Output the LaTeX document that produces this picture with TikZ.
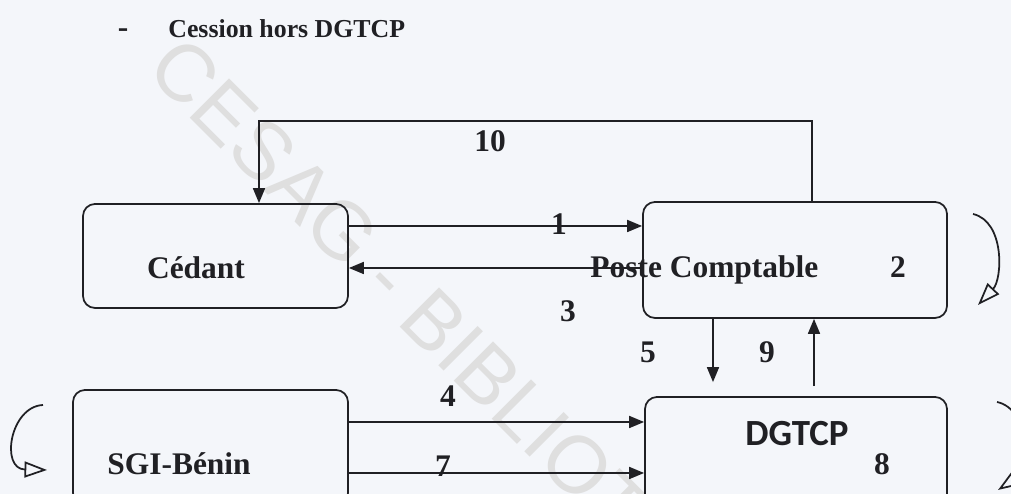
\documentclass[tikz,border=0pt]{standalone}
\usepackage{fontspec}
\setmainfont{Liberation Serif}
\newfontfamily\dgfont{Carlito}
\newfontfamily\wmfont{Liberation Sans}
\usetikzlibrary{arrows.meta,calc}

\definecolor{paper}{RGB}{244,246,250}
\definecolor{ink}{RGB}{32,32,36}

\tikzset{
  boite/.style={draw=ink, line width=1pt, rounded corners=0.24cm, inner sep=0pt},
  txt/.style={font=\fontsize{17.9}{20}\selectfont\bfseries, text=ink, inner sep=0pt},
  fleche/.style={draw=ink, line width=1pt, -{Triangle[length=3mm,width=2.4mm]}},
  boucle/.style={draw=ink, line width=1pt, -{Triangle[open,length=4.5mm,width=3.2mm]}},
  filigrane/.style={font=\wmfont\fontsize{46}{50}\selectfont, text=gray!25, inner sep=0pt}
}

\begin{document}
\begin{tikzpicture}

\useasboundingbox (0,0) rectangle (20.22,9.88);
\fill[paper] (0,0) rectangle (20.22,9.88);
\clip (0,0) rectangle (20.22,9.88);

% =========================
% FILIGRANE
% =========================

\node[filigrane, rotate=-45, anchor=west] (wm) at (3.18,8.74) {CESAG - BIBLIOTHEQUE};

% =========================
% TITRE
% =========================

\node[txt, anchor=base] (tiret) at (2.46,9.12) {-};
\node[txt, font=\fontsize{14.7}{17}\selectfont\bfseries, anchor=base west] (titre) at (3.36,9.12) {Cession hors DGTCP};

% =========================
% BOITES
% =========================

\node[boite, minimum width=5.3cm, minimum height=2.08cm] (cedant) at (4.31,4.76) {};
\node[boite, minimum width=6.08cm, minimum height=2.32cm] (poste) at (15.9,4.68) {};
\node[boite, minimum width=5.5cm, minimum height=2.3cm] (sgi) at (4.21,0.93) {};
\node[boite, minimum width=6.04cm, minimum height=2.3cm] (dgtcp) at (15.92,0.79) {};

% =========================
% TEXTES
% =========================

\node[txt, anchor=base] (tcedant) at (3.92,4.30) {Cédant};
\node[txt, anchor=base west] (tposte) at (11.8,4.32) {Poste Comptable};
\node[txt, anchor=base west] (tsgi) at (2.14,0.38) {SGI-Bénin};
\node[txt, font=\dgfont\fontsize{21}{24}\selectfont\bfseries, anchor=base] (tdgtcp) at (15.94,0.96) {DGTCP};

\node[txt, anchor=base] (n1) at (11.18,5.18) {1};
\node[txt, anchor=base] (n2) at (17.96,4.32) {2};
\node[txt, anchor=base] (n3) at (11.36,3.44) {3};
\node[txt, anchor=base] (n4) at (8.96,1.74) {4};
\node[txt, anchor=base] (n5) at (12.96,2.62) {5};
\node[txt, anchor=base] (n7) at (8.86,0.34) {7};
\node[txt, anchor=base] (n8) at (17.64,0.38) {8};
\node[txt, anchor=base] (n9) at (15.34,2.62) {9};
\node[txt, anchor=base] (n10) at (9.8,6.84) {10};

% =========================
% FLECHES
% =========================

\coordinate (p10) at (16.24,7.46);
\coordinate (c10) at (5.18,7.46);
\coordinate (y1) at (0,5.36);
\coordinate (y3) at (0,4.52);
\coordinate (x5) at (14.26,0);
\coordinate (x9) at (16.28,0);
\coordinate (y4) at (0,1.44);
\coordinate (y7) at (0,0.42);

% Poste -> Cedant (10)
\draw[fleche] (p10 |- poste.north) -- (p10) -- (c10) -- (c10 |- cedant.north);

% Cedant <-> Poste (1, 3)
\draw[fleche] (cedant.east |- y1) -- (poste.west |- y1);
\draw[fleche] (poste.west |- y3) -- (cedant.east |- y3);

% Poste <-> DGTCP (5, 9)
\draw[fleche, shorten >=0.28cm] (poste.south -| x5) -- (dgtcp.north -| x5);
\draw[fleche, shorten <=0.2cm] (dgtcp.north -| x9) -- (poste.south -| x9);

% SGI -> DGTCP (4, 7)
\draw[fleche] (sgi.east |- y4) -- (dgtcp.west |- y4);
\draw[fleche] (sgi.east |- y7) -- (dgtcp.west |- y7);

% boucles (2, 8, SGI)
\coordinate (b2a) at (19.46,5.6);
\coordinate (b2b) at (19.56,3.78);
\coordinate (b8a) at (19.94,1.84);
\coordinate (b8b) at (19.96,0.08);
\coordinate (bsa) at (0.86,1.78);
\coordinate (bsb) at (0.94,0.48);

\draw[boucle] (b2a) .. controls (20.1,5.45) and (20.05,4.3) .. (b2b);
\draw[boucle] (b8a) .. controls (20.6,1.7) and (20.6,0.5) .. (b8b);
\draw[boucle] (bsa) .. controls (0.2,1.75) and (0.0,0.5) .. (bsb);

\end{tikzpicture}
\end{document}
